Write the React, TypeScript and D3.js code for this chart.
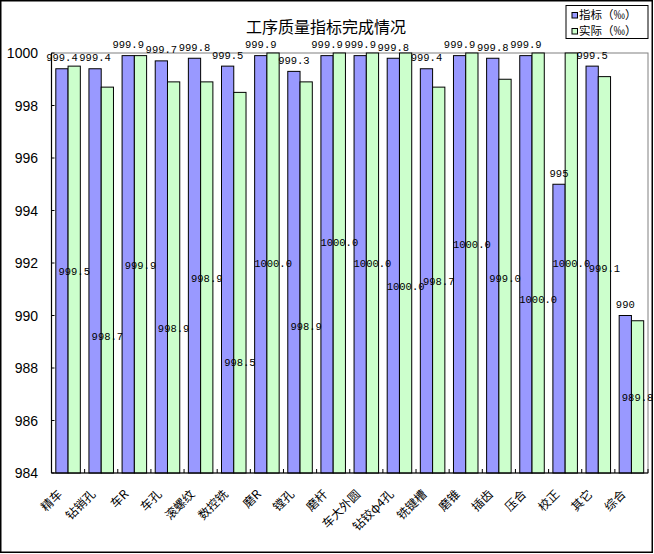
import React, { FC, useMemo } from "react";
import * as d3 from "d3";

// 工序名称
const categories = [
    "精车", "钻销孔", "车R", "车孔", "滚螺纹", "数控铣", "磨R", "镗孔", "磨杆",
    "车大外圆", "钻铰φ4孔", "铣键槽", "磨锥", "插齿", "压合", "校正", "其它", "综合",
];

// 指标（‰）
const targetValues = [
    999.4, 999.4, 999.9, 999.7, 999.8, 999.5, 999.9, 999.3, 999.9,
    999.9, 999.8, 999.4, 999.9, 999.8, 999.9, 995, 999.5, 990,
];

// 实际（‰）
const actualValues = [
    999.5, 998.7, 999.9, 998.9, 998.9, 998.5, 1000.0, 998.9, 1000.0,
    1000.0, 1000.0, 998.7, 1000.0, 999.0, 1000.0, 1000.0, 999.1, 989.8,
];

// 实际值标签在图中所处的数值高度
const actualLabelAt = [
    991.7, 989.2, 991.9, 989.5, 991.4, 988.2, 992.0, 989.6, 992.8,
    992.0, 991.1, 991.3, 992.7, 991.4, 990.6, 992.0, 991.8, 986.9,
];

const seriesNames = ["指标（‰）", "实际（‰）"];
const yDomain = [984, 1000];
const yTicks = d3.range(984, 1001, 2);

const colors = ["#9999FF", "#CCFFCC"];
const cjkFont = "'Noto Sans CJK SC', sans-serif";
const numFont = "'Liberation Mono', 'DejaVu Sans Mono', monospace";

const W = 654;
const H = 554;
const plot = { left: 51.5, right: 648, top: 53, bottom: 473 };

const fmtTarget = (v: number) => (Number.isInteger(v) ? String(v) : v.toFixed(1));

const App: FC = () => {
    const x = useMemo(
        () =>
            d3
                .scaleBand<string>()
                .domain(categories)
                .range([plot.left, plot.right])
                .paddingInner(0.26)
                .paddingOuter(0.13),
        []
    );
    const xs = useMemo(
        () => d3.scaleBand<number>().domain([0, 1]).range([0, x.bandwidth()]),
        [x]
    );
    const y = useMemo(() => d3.scaleLinear(yDomain, [plot.bottom, plot.top]), []);
    const step = x.step();

    return (
        <div style={{ position: "absolute", top: 0, left: 0 }}>
            <svg width={W} height={H} style={{ display: "block", background: "#fff" }}>
                <rect x={0.75} y={0.75} width={651.5} height={551.5} fill="#fff" stroke="#000" strokeWidth={1.5} />

                {/* 绘图区边框 */}
                <rect
                    x={plot.left}
                    y={plot.top}
                    width={plot.right - plot.left}
                    height={plot.bottom - plot.top}
                    fill="#fff"
                    stroke="#808080"
                    strokeWidth={1}
                />

                {/* 柱 */}
                {categories.map((c, i) =>
                    [targetValues[i], actualValues[i]].map((v, s) => (
                        <rect
                            key={`${c}-${s}`}
                            x={(x(c) as number) + (xs(s) as number)}
                            y={y(v)}
                            width={xs.bandwidth()}
                            height={y(yDomain[0]) - y(v)}
                            fill={colors[s]}
                            stroke="#000"
                            strokeWidth={1}
                        />
                    ))
                )}

                {/* 坐标轴 */}
                <line x1={plot.left} x2={plot.left} y1={plot.top} y2={plot.bottom} stroke="#000" strokeWidth={1.2} />
                <line x1={plot.left} x2={plot.right} y1={plot.bottom} y2={plot.bottom} stroke="#000" strokeWidth={1.2} />
                {yTicks.map((t) => (
                    <g key={t}>
                        <line x1={plot.left} x2={plot.left + 3} y1={y(t)} y2={y(t)} stroke="#000" />
                        <text
                            x={38}
                            y={y(t)}
                            dy="0.36em"
                            textAnchor="end"
                            fontFamily="'Liberation Sans', Arial, sans-serif"
                            fontSize={14}
                        >
                            {t}
                        </text>
                    </g>
                ))}
                {d3.range(categories.length + 1).map((i) => (
                    <line
                        key={i}
                        x1={plot.left + i * step}
                        x2={plot.left + i * step}
                        y1={plot.bottom}
                        y2={plot.bottom - 4}
                        stroke="#000"
                    />
                ))}
                {categories.map((c) => (
                    <text
                        key={c}
                        transform={`translate(${(x(c) as number) + x.bandwidth() / 2 - 8},${plot.bottom + 19}) rotate(-45)`}
                        textAnchor="end"
                        dy="0.35em"
                        fontFamily={cjkFont}
                        fontSize={12}
                    >
                        {c}
                    </text>
                ))}

                {/* 数据标签 */}
                {categories.map((c, i) => (
                    <React.Fragment key={`lbl-${c}`}>
                        <text
                            x={(x(c) as number) + (xs(0) as number) + xs.bandwidth() / 2}
                            y={y(targetValues[i]) - 7.5}
                            textAnchor="middle"
                            fontFamily={numFont}
                            fontSize={10.5}
                        >
                            {fmtTarget(targetValues[i])}
                        </text>
                        <text
                            x={(x(c) as number) + (xs(1) as number) + xs.bandwidth() / 2}
                            y={y(actualLabelAt[i])}
                            dy="0.35em"
                            textAnchor="middle"
                            fontFamily={numFont}
                            fontSize={10.5}
                        >
                            {actualValues[i].toFixed(1)}
                        </text>
                    </React.Fragment>
                ))}

                {/* 标题 */}
                <text x={326} y={33} textAnchor="middle" fontFamily={cjkFont} fontSize={16}>
                    工序质量指标完成情况
                </text>

                {/* 图例 */}
                <rect x={566} y={5.5} width={82} height={33} fill="#fff" stroke="#000" strokeWidth={1} />
                {seriesNames.map((n, s) => (
                    <g key={n} transform={`translate(572,${15 + s * 16})`}>
                        <rect x={0} y={-2.5} width={5.5} height={5.5} fill={colors[s]} stroke="#000" />
                        <text x={7} y={0} dy="0.36em" fontFamily={cjkFont} fontSize={11.5}>
                            {n}
                        </text>
                    </g>
                ))}
            </svg>
        </div>
    );
};

export default App;
